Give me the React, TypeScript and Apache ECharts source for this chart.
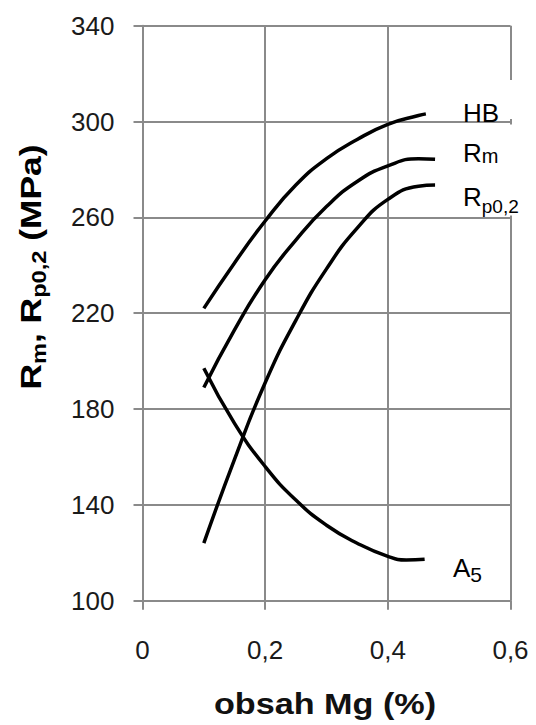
import React, { useEffect, useRef } from 'react';
import * as echarts from 'echarts';

// Axis definitions
const xMin = 0;
const xMax = 0.6;
const xStep = 0.2;
const yMin = 100;
const yMax = 340;
const yStep = 40;

// Series data: [obsah Mg (%), value]
const hbData = [
  [0.1, 222], [0.15, 241], [0.2, 258.5], [0.25, 273.5], [0.3, 284.5],
  [0.35, 292.5], [0.4, 298.8], [0.45, 302.5], [0.462, 303.2],
];
const rmData = [
  [0.1, 189], [0.15, 213], [0.2, 234], [0.25, 250.5], [0.3, 264.5],
  [0.35, 275], [0.4, 281.5], [0.45, 284.5], [0.477, 284.3],
];
const rpData = [
  [0.1, 124], [0.15, 159], [0.2, 191], [0.25, 217], [0.3, 238.5],
  [0.35, 255.5], [0.4, 267.5], [0.45, 273], [0.477, 273.5],
];
const a5Data = [
  [0.1, 197], [0.15, 174], [0.2, 156], [0.25, 142], [0.3, 131.5],
  [0.35, 124], [0.4, 118.5], [0.43, 117], [0.46, 117.3],
];

const xTitle = 'obsah Mg (%)';
const FONT = '"Liberation Sans", Arial, sans-serif';

export default function App() {
  const ref = useRef<HTMLDivElement>(null);
  useEffect(() => {
    const chart = echarts.init(ref.current!, null, { renderer: 'svg' });
    const lineSeries = (name: string, data: number[][]) => ({
      name,
      type: 'line',
      data,
      smooth: true,
      showSymbol: false,
      symbol: 'none',
      lineStyle: { color: '#000', width: 3.5 },
      z: 5,
    });
    const big = { fontSize: 26, lineHeight: 26, fontFamily: FONT, color: '#1a1a1a', verticalAlign: 'top' };
    chart.setOption({
      animation: false,
      backgroundColor: '#fff',
      textStyle: { fontFamily: FONT },
      grid: { left: 142.5, right: 25.5, top: 25.7, bottom: 124.3, containLabel: false },
      xAxis: {
        type: 'value',
        min: xMin,
        max: xMax,
        interval: xStep,
        axisLine: { show: true, lineStyle: { color: '#8a8a8a', width: 2 } },
        axisTick: { show: true, length: 9, lineStyle: { color: '#8a8a8a', width: 2 } },
        splitLine: { show: true, lineStyle: { color: '#8a8a8a', width: 2 } },
        axisLabel: {
          margin: 36,
          fontSize: 26,
          color: '#1a1a1a',
          fontFamily: FONT,
          formatter: (v: number) => String(Number(v.toFixed(1))).replace('.', ','),
        },
      },
      yAxis: {
        type: 'value',
        min: yMin,
        max: yMax,
        interval: yStep,
        axisLine: { show: true, lineStyle: { color: '#8a8a8a', width: 2 } },
        axisTick: { show: true, length: 9, lineStyle: { color: '#8a8a8a', width: 2 } },
        splitLine: { show: true, lineStyle: { color: '#8a8a8a', width: 2 } },
        axisLabel: { margin: 28, fontSize: 26, color: '#1a1a1a', fontFamily: FONT },
      },
      series: [
        lineSeries('HB', hbData),
        lineSeries('Rm', rmData),
        lineSeries('Rp0,2', rpData),
        lineSeries('A5', a5Data),
      ],
      graphic: [
        { type: 'rect', z: 100, shape: { x: 506, y: 80, width: 10, height: 39 }, style: { fill: '#fff' } },
        { type: 'rect', z: 100, shape: { x: 506, y: 124.5, width: 10, height: 91 }, style: { fill: '#fff' } },
        {
          type: 'text', z: 101, x: 463, y: 100,
          style: { text: '{a|HB}', rich: { a: big }, align: 'left', verticalAlign: 'top' },
        },
        {
          type: 'text', z: 101, x: 463, y: 140,
          style: {
            text: '{a|R}{b|m}',
            rich: { a: big, b: { fontSize: 20, lineHeight: 20, padding: [6, 0, 0, 0], fontFamily: FONT, color: '#1a1a1a', verticalAlign: 'top' } },
            align: 'left', verticalAlign: 'top',
          },
        },
        {
          type: 'text', z: 101, x: 463, y: 184,
          style: {
            text: '{a|R}{b|p0,2}',
            rich: { a: big, b: { fontSize: 19, lineHeight: 19, padding: [12.5, 0, 0, 0], fontFamily: FONT, color: '#1a1a1a', verticalAlign: 'top' } },
            align: 'left', verticalAlign: 'top',
          },
        },
        {
          type: 'text', z: 101, x: 453, y: 555,
          style: {
            text: '{a|A}{b|5}',
            rich: { a: big, b: { fontSize: 21, lineHeight: 21, padding: [9, 0, 0, 0], fontFamily: FONT, color: '#1a1a1a', verticalAlign: 'top' } },
            align: 'left', verticalAlign: 'top',
          },
        },
        {
          type: 'text', z: 101, x: 325, y: 704, scaleX: 1.14,
          style: {
            text: xTitle, fontSize: 30, fontWeight: 'bold', fontFamily: FONT, fill: '#111',
            align: 'center', verticalAlign: 'middle',
          },
        },
        {
          type: 'text', z: 101, x: 30, y: 267, rotation: Math.PI / 2, scaleX: 1.18,
          style: {
            text: '{a|R}{s|m}{a|, R}{s|p0,2}{a| (MPa)}',
            rich: {
              a: { fontSize: 30, lineHeight: 30, fontWeight: 'bold', fontFamily: FONT, color: '#111', verticalAlign: 'top' },
              s: { fontSize: 20, lineHeight: 20, fontWeight: 'bold', padding: [14, 0, 0, 0], fontFamily: FONT, color: '#111', verticalAlign: 'top' },
            },
            align: 'center', verticalAlign: 'middle',
          },
        },
      ],
    });
    return () => chart.dispose();
  }, []);
  return (
    <div
      ref={ref}
      style={{ position: 'fixed', left: 0, top: 0, width: 536, height: 725, background: '#fff' }}
    />
  );
}
